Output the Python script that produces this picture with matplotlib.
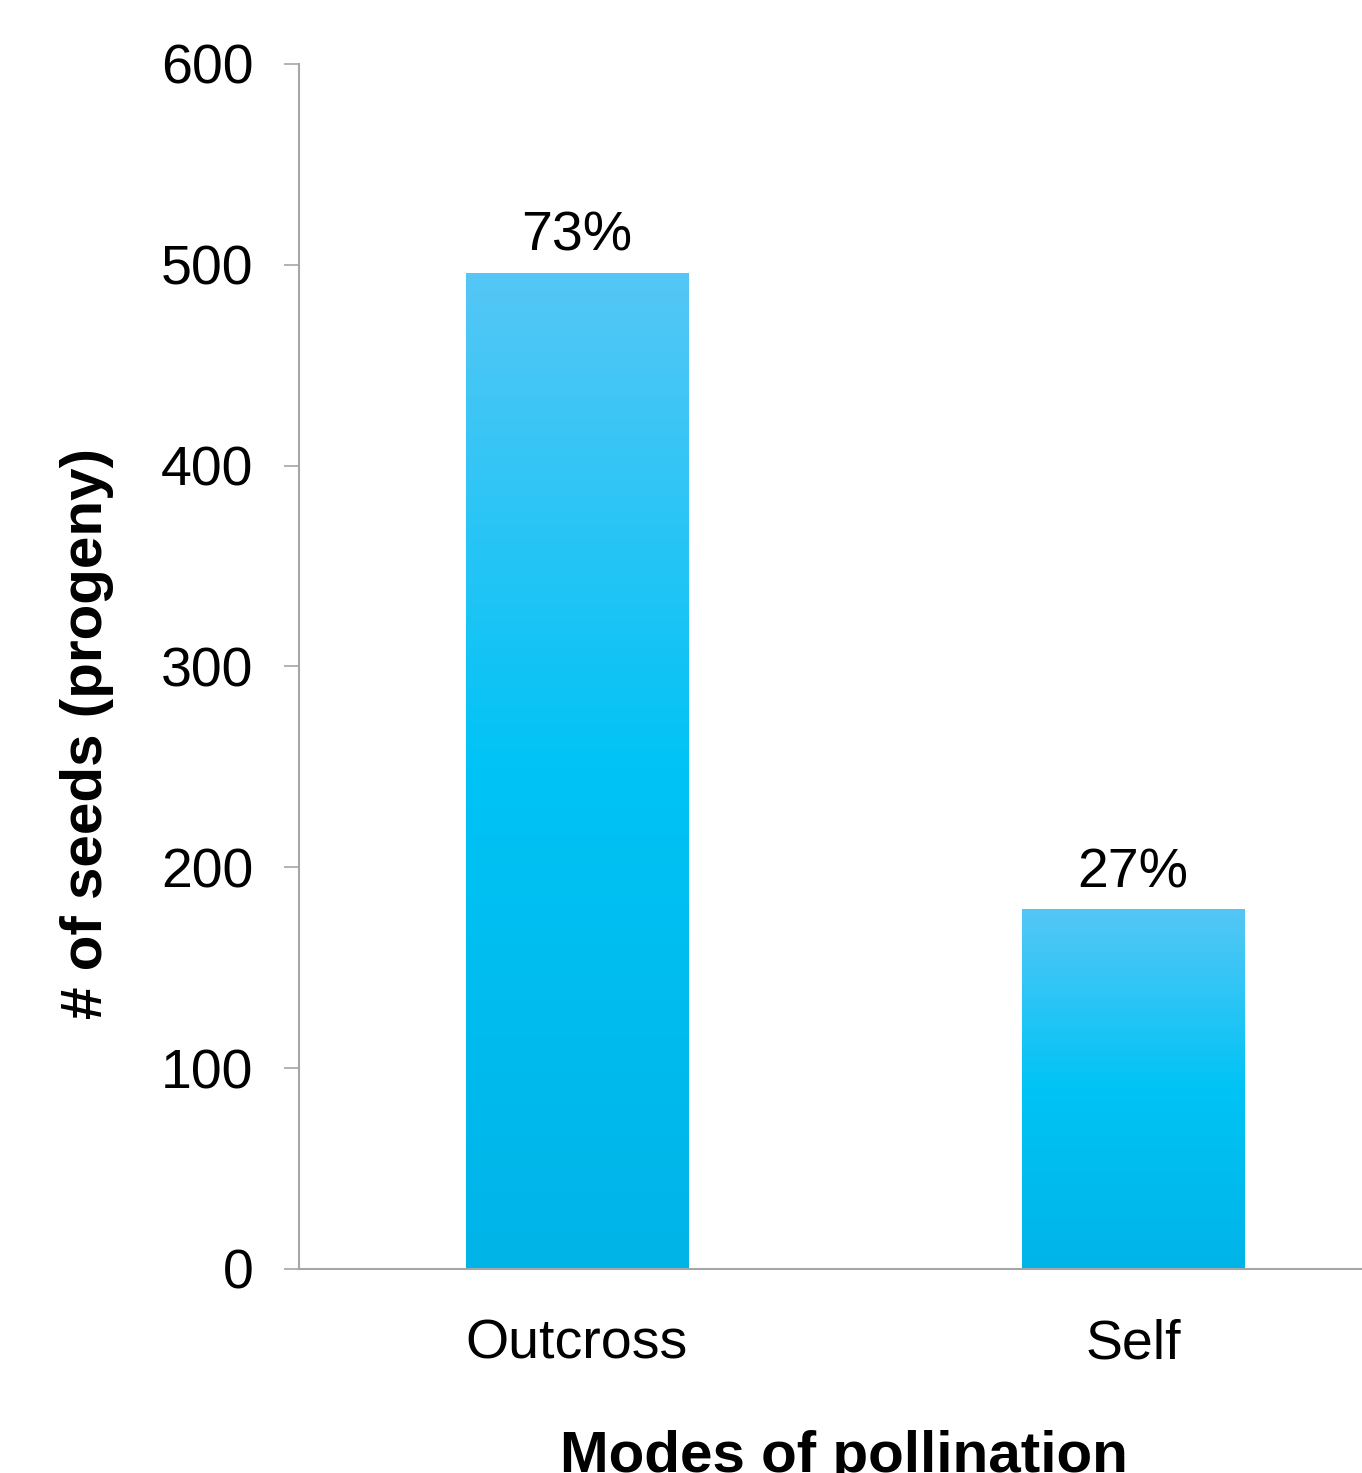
import numpy as np
import matplotlib.pyplot as plt
from matplotlib.colors import LinearSegmentedColormap

plt.rcParams['font.family'] = ['Liberation Sans', 'DejaVu Sans']

categories = ['Outcross', 'Self']
seeds = [496, 179]
percents = ['73%', '27%']

fig = plt.figure(figsize=(13.62, 14.73), dpi=100)
ax = fig.add_axes([0.2195, 0.1385, 0.8165, 0.8181])

cmap = LinearSegmentedColormap.from_list(
    'bar', [(0.0, '#00B4E8'), (0.5, '#00C3F5'), (1.0, '#55C7F6')])
grad = np.linspace(0, 1, 256).reshape(-1, 1)

width = 0.4
bars = ax.bar(range(len(categories)), seeds, width=width, color='none')
for b, p in zip(bars, percents):
    x0, h = b.get_x(), b.get_height()
    im = ax.imshow(grad, cmap=cmap, origin='lower', aspect='auto',
                   extent=[x0, x0 + width, 0, h], zorder=2)
    im.set_clip_path(b)
    ax.text(x0 + width / 2, h + 5, p, ha='center', va='bottom', fontsize=40)

ax.set_xlim(-0.5, 1.5)
ax.set_ylim(0, 600)
ax.set_yticks(range(0, 601, 100))
ax.set_xticks(range(len(categories)))
ax.set_xticklabels(categories)
ax.tick_params(axis='y', labelsize=40, length=11, width=1.2, color='#A6A6A6', pad=22)
ax.tick_params(axis='x', labelsize=40, length=0, pad=36)

for s in ['top', 'right']:
    ax.spines[s].set_visible(False)
for s in ['left', 'bottom']:
    ax.spines[s].set_color('#A6A6A6')
    ax.spines[s].set_linewidth(1.5)

ax.set_ylabel('# of seeds (progeny)', fontsize=42, fontweight='bold')
ax.yaxis.set_label_coords(-0.166, 0.444)
ax.set_xlabel('Modes of pollination', fontsize=42, fontweight='bold')
ax.xaxis.set_label_coords(0.49, -0.134)

fig.savefig('out.png', dpi=100)
